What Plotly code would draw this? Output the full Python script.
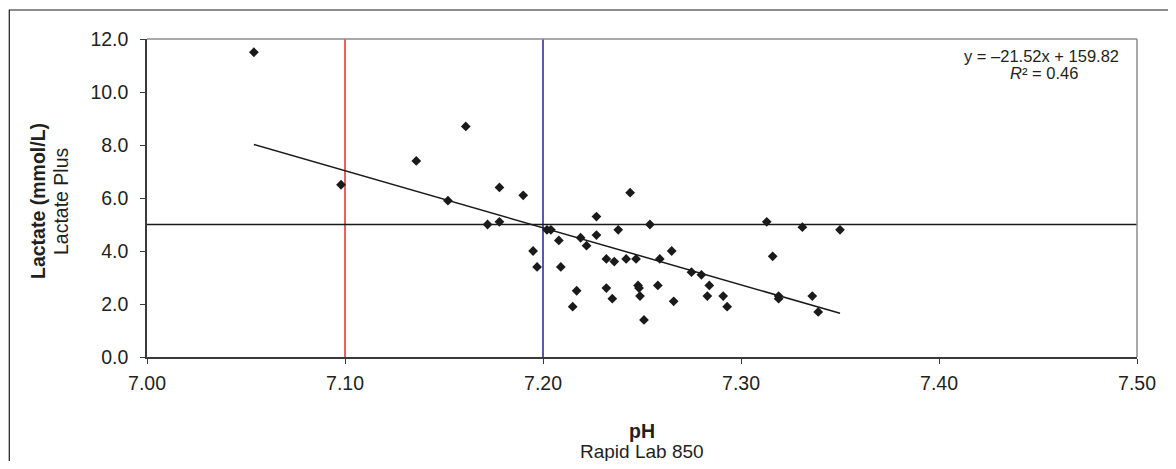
import plotly.graph_objects as go

# ---- data ----
ph = [7.054, 7.098, 7.136, 7.161, 7.152, 7.178, 7.190, 7.172, 7.178, 7.202,
      7.204, 7.195, 7.197, 7.208, 7.209, 7.217, 7.215, 7.219, 7.222, 7.227,
      7.227, 7.232, 7.232, 7.244, 7.238, 7.254, 7.236, 7.242, 7.247, 7.259,
      7.265, 7.275, 7.280, 7.235, 7.248, 7.2485, 7.249, 7.251, 7.258, 7.266,
      7.284, 7.283, 7.291, 7.293, 7.313, 7.331, 7.350, 7.316, 7.319, 7.319,
      7.336, 7.339]
lactate = [11.5, 6.5, 7.4, 8.7, 5.9, 6.4, 6.1, 5.0, 5.1, 4.8,
           4.8, 4.0, 3.4, 4.4, 3.4, 2.5, 1.9, 4.5, 4.2, 5.3,
           4.6, 3.7, 2.6, 6.2, 4.8, 5.0, 3.6, 3.7, 3.7, 3.7,
           4.0, 3.2, 3.1, 2.2, 2.7, 2.6, 2.3, 1.4, 2.7, 2.1,
           2.7, 2.3, 2.3, 1.9, 5.1, 4.9, 4.8, 3.8, 2.3, 2.2,
           2.3, 1.7]
slope = -21.52
intercept = 159.82
r_squared = 0.46
ph_lines = [7.10, 7.20]
ph_line_colors = ["#e8373f", "#2e3190"]
lactate_threshold = 5.0
x_ticks = [7.00, 7.10, 7.20, 7.30, 7.40, 7.50]
y_ticks = [0.0, 2.0, 4.0, 6.0, 8.0, 10.0, 12.0]

FONT = "Arial, 'Liberation Sans', Helvetica, sans-serif"
TXT = "#231f20"

fig = go.Figure()

# trendline over data range
x0, x1 = min(ph), max(ph)
fig.add_trace(go.Scatter(x=[x0, x1], y=[slope * x0 + intercept, slope * x1 + intercept],
                         mode="lines", line=dict(color="#1a1a1a", width=1.5),
                         hoverinfo="skip", showlegend=False))
fig.add_trace(go.Scatter(x=ph, y=lactate, mode="markers",
                         marker=dict(symbol="diamond", size=7.5, color="#1a1a1a"),
                         showlegend=False))

shapes = []
for xv, col in zip(ph_lines, ph_line_colors):
    shapes.append(dict(type="line", xref="x", yref="paper", x0=xv, x1=xv, y0=0, y1=1,
                       line=dict(color=col, width=1.6), layer="below"))
shapes.append(dict(type="line", xref="paper", yref="y", x0=0, x1=1,
                   y0=lactate_threshold, y1=lactate_threshold,
                   line=dict(color="#1a1a1a", width=1.5), layer="below"))
# gray top/right plot border
shapes.append(dict(type="line", xref="paper", yref="paper", x0=0, x1=1, y0=1, y1=1,
                   line=dict(color="#8c8c8c", width=1.5)))
shapes.append(dict(type="line", xref="paper", yref="paper", x0=1, x1=1, y0=0, y1=1,
                   line=dict(color="#8c8c8c", width=1.5)))
# outer frame (extends beyond the visible right/bottom edges)
shapes.append(dict(type="rect", xref="paper", yref="paper",
                   x0=-0.1391, x1=1.2, y0=-0.6, y1=1.0912,
                   line=dict(color="#1a1a1a", width=1.2)))

annotations = [
    dict(text=f"y = \u2013{abs(slope):.2f}x + {intercept:.2f}",
         xref="paper", yref="paper", x=0.904, y=0.948, xanchor="center", yanchor="middle",
         showarrow=False, font=dict(family=FONT, size=16.5, color=TXT)),
    dict(text=f"<i>R</i>\u00b2 = {r_squared:.2f}",
         xref="paper", yref="paper", x=0.906, y=0.894, xanchor="center", yanchor="middle",
         showarrow=False, font=dict(family=FONT, size=16.5, color=TXT)),
    dict(text="<b>Lactate (mmol/L)</b>", xref="paper", yref="paper", x=-0.1103, y=0.49,
         textangle=-90, xanchor="center", yanchor="middle", showarrow=False,
         font=dict(family=FONT, size=19.5, color=TXT)),
    dict(text="Lactate Plus", xref="paper", yref="paper", x=-0.087, y=0.49,
         textangle=-90, xanchor="center", yanchor="middle", showarrow=False,
         font=dict(family=FONT, size=19.5, color=TXT)),
    dict(text="<b>pH</b>", xref="paper", yref="paper", x=0.5, y=-0.232,
         xanchor="center", yanchor="middle", showarrow=False,
         font=dict(family=FONT, size=19.5, color=TXT)),
    dict(text="Rapid Lab 850", xref="paper", yref="paper", x=0.5, y=-0.296,
         xanchor="center", yanchor="middle", showarrow=False,
         font=dict(family=FONT, size=19, color=TXT)),
]

# page has an 8px body margin, so the figure is sized to fit inside it
fig.update_layout(
    width=1160, height=453,
    margin=dict(l=139, r=25, t=31, b=104),
    paper_bgcolor="white", plot_bgcolor="white",
    font=dict(family=FONT, size=19.5, color=TXT),
    shapes=shapes, annotations=annotations, showlegend=False,
    xaxis=dict(range=[7.0, 7.5], tickvals=x_ticks, ticktext=[f"{v:.2f}" for v in x_ticks],
               showgrid=False, zeroline=False, showline=True, linecolor="#3a3a3a",
               linewidth=1.5, ticks="outside", ticklen=5, tickcolor="#3a3a3a",
               tickfont=dict(family=FONT, size=19.5, color=TXT), ticklabelstandoff=3),
    yaxis=dict(range=[0, 12], tickvals=y_ticks, ticktext=[f"{v:.1f}" for v in y_ticks],
               showgrid=False, zeroline=False, showline=True, linecolor="#3a3a3a",
               linewidth=1.5, ticks="outside", ticklen=5, tickcolor="#3a3a3a",
               tickfont=dict(family=FONT, size=19.5, color=TXT), ticklabelstandoff=8),
)

fig.write_html("out.html")
